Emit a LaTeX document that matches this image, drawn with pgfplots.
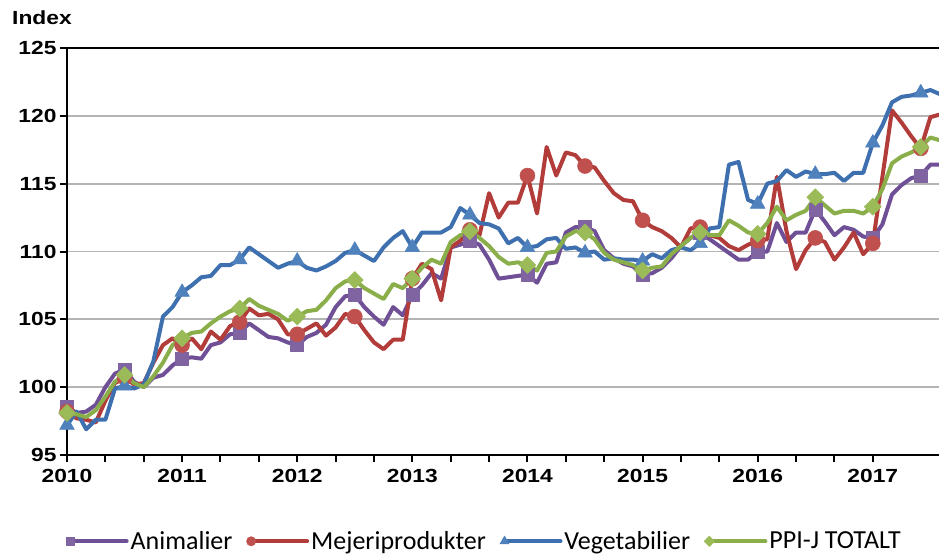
\documentclass[border=0pt]{standalone}
\usepackage{pgfplots}
\pgfplotsset{compat=1.18}
\usepackage{pgfplotstable}
\usepackage{fontspec}
\setmainfont{Liberation Sans}
\newfontfamily\tickfont{Liberation Sans}[FakeStretch=1.2]
\newfontfamily\legfont{Carlito}
\definecolor{animL}{HTML}{6F4F96}
\definecolor{animM}{HTML}{8064A2}
\definecolor{mejL}{HTML}{B13C3A}
\definecolor{mejM}{HTML}{C0504D}
\definecolor{vegL}{HTML}{3E70B0}
\definecolor{vegM}{HTML}{4F81BD}
\definecolor{totL}{HTML}{8AAE4A}
\definecolor{totM}{HTML}{9BBB59}
\definecolor{gridc}{HTML}{B4B4B4}
\pgfplotstableread{
m anim mej veg tot
0 98.55 98.2 97.2 98.1
1 98.1 97.7 98.2 98.0
2 98.2 97.6 96.9 97.8
3 98.7 97.4 97.6 98.3
4 100.0 99.0 97.6 99.3
5 101.0 100.3 99.9 100.4
6 101.3 100.7 100.1 100.9
7 100.4 100.2 99.9 100.3
8 100.0 100.3 100.2 100.0
9 100.7 101.8 101.9 100.8
10 100.9 103.1 105.2 101.8
11 101.6 103.6 105.9 103.1
12 102.1 103.1 107.0 103.6
13 102.2 103.6 107.5 104.0
14 102.1 102.8 108.1 104.1
15 103.1 104.1 108.2 104.7
16 103.3 103.5 109.0 105.2
17 103.9 104.5 109.0 105.6
18 104.0 104.8 109.4 105.8
19 104.7 105.8 110.3 106.5
20 104.2 105.3 109.8 106.0
21 103.7 105.4 109.3 105.7
22 103.6 105.0 108.8 105.4
23 103.3 103.9 109.1 104.9
24 103.1 103.9 109.3 105.2
25 103.7 104.3 108.8 105.6
26 104.0 104.7 108.6 105.7
27 104.6 103.8 108.9 106.4
28 105.9 104.4 109.3 107.3
29 106.7 105.4 109.9 107.8
30 106.8 105.2 110.1 107.9
31 105.9 104.2 109.7 107.3
32 105.2 103.3 109.3 106.9
33 104.6 102.8 110.3 106.5
34 105.9 103.5 111.0 107.6
35 105.3 103.5 111.5 107.3
36 106.8 108.0 110.3 108.0
37 107.5 109.1 111.4 108.8
38 108.4 108.7 111.4 109.4
39 108.0 106.4 111.4 109.1
40 110.3 110.3 111.8 110.7
41 110.5 110.8 113.2 111.2
42 110.8 111.6 112.7 111.5
43 110.5 111.2 112.1 111.0
44 109.4 114.3 112.0 110.4
45 108.0 112.5 111.7 109.6
46 108.1 113.6 110.6 109.1
47 108.2 113.6 111.0 109.2
48 108.3 115.6 110.3 109.0
49 107.7 112.8 110.4 108.6
50 109.1 117.7 110.9 109.9
51 109.2 115.6 111.0 110.0
52 111.4 117.3 110.2 111.1
53 111.8 117.1 110.3 111.5
54 111.8 116.3 109.9 111.4
55 111.5 116.2 110.0 110.9
56 110.1 115.2 109.4 109.9
57 109.5 114.3 109.5 109.4
58 109.1 113.8 109.4 109.2
59 108.9 113.7 109.4 109.0
60 108.3 112.3 109.3 108.6
61 108.4 111.8 109.8 108.8
62 108.8 111.5 109.5 108.9
63 109.5 111.0 110.1 109.8
64 110.4 110.3 110.3 110.4
65 111.0 111.7 110.1 111.0
66 111.4 111.8 110.6 111.4
67 110.9 111.2 111.7 111.2
68 110.4 111.0 111.8 111.2
69 109.9 110.4 116.4 112.3
70 109.4 110.1 116.6 111.9
71 109.4 110.5 113.8 111.4
72 110.0 110.8 113.5 111.3
73 110.0 110.9 115.0 112.1
74 112.1 115.5 115.2 113.3
75 110.7 111.5 116.0 112.3
76 111.4 108.7 115.5 112.7
77 111.4 110.1 115.9 113.0
78 113.1 111.0 115.7 114.0
79 112.2 110.7 115.7 113.4
80 111.2 109.4 115.8 112.8
81 111.8 110.3 115.2 113.0
82 111.6 111.4 115.8 113.0
83 111.1 109.8 115.8 112.8
84 111.0 110.6 118.0 113.3
85 112.0 115.5 119.3 114.6
86 114.2 120.4 121.0 116.5
87 114.9 119.5 121.4 117.0
88 115.4 118.5 121.5 117.3
89 115.6 117.6 121.7 117.7
90 116.4 119.9 121.9 118.4
91 116.4 120.1 121.6 118.2
}\data
\begin{document}
\begin{tikzpicture}
\path[use as bounding box] (-67bp,-102bp) rectangle (872bp,455bp);
\begin{axis}[
  width=872bp, height=407bp, scale only axis,
  at={(0,0)}, anchor=south west,
  xmin=0, xmax=90.9, ymin=95, ymax=125,
  axis x line*=bottom, axis y line*=left,
  axis line style={black, line width=2.2bp},
  xtick={0,12,24,36,48,60,72,84},
  xticklabels={2010,2011,2012,2013,2014,2015,2016,2017},
  minor x tick num=2,
  ytick={95,100,...,125},
  tick align=outside,
  major tick length=7bp, minor tick length=7bp,
  tick style={black, line width=2bp},
  ymajorgrids, major grid style={gridc, line width=1.8bp},
  ticklabel style={font=\tickfont\bfseries\fontsize{19bp}{21bp}\selectfont},
  xticklabel style={yshift=-4bp},
  /pgf/number format/assume math mode=true,
  legend columns=4,
  legend style={at={(0.479,-0.212)}, anchor=center, draw=none, fill=none,
    font=\legfont\fontsize{26bp}{28bp}\selectfont,
    /tikz/every even column/.append style={column sep=12bp}},
  legend image code/.code={\draw[#1, every mark/.append style={scale=0.62}, mark repeat=2, mark phase=2] plot coordinates {(0bp,0bp) (28bp,0bp) (56bp,0bp)};},
  every axis plot/.append style={line width=4bp, line join=round, line cap=round,
    mark indices={1,7,13,19,25,31,37,43,49,55,61,67,73,79,85,90}},
]
\addplot[color=animL, mark=square*, mark size=6.5bp, mark options={fill=animM, draw=animM, line width=0.5bp}] table[x=m, y=anim] {\data};
\addlegendentry{Animalier}
\addplot[color=mejL, mark=*, mark size=7.5bp, mark options={fill=mejM, draw=mejM, line width=0.5bp}] table[x=m, y=mej] {\data};
\addlegendentry{Mejeriprodukter}
\addplot[color=vegL, mark=triangle*, mark size=8.5bp, mark options={fill=vegM, draw=vegM, line width=0.5bp}] table[x=m, y=veg] {\data};
\addlegendentry{Vegetabilier}
\addplot[color=totL, mark=square*, mark size=6bp, mark options={fill=totM, draw=totM, line width=0.5bp, rotate=45}] table[x=m, y=tot] {\data};
\addlegendentry{PPI-J TOTALT}
\draw[black, line width=2.2bp] (rel axis cs:0,1) -- (rel axis cs:1,1);
\end{axis}
\node[anchor=west, font=\tickfont\bfseries\fontsize{19bp}{21bp}\selectfont, inner sep=0pt] at (-55bp,437bp) {Index};
\end{tikzpicture}
\end{document}
